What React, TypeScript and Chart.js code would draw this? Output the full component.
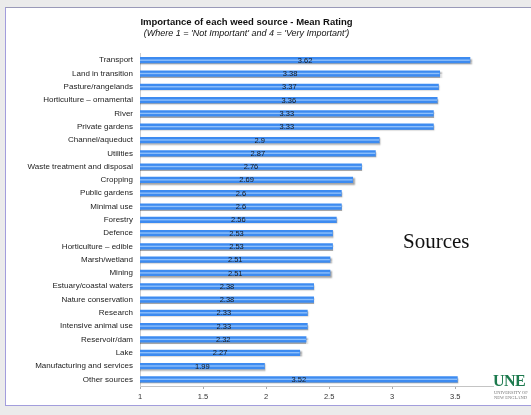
import React, { useEffect, useRef } from "react";
import { Chart, registerables } from "chart.js";

Chart.register(...registerables);

const categories = [
  "Transport",
  "Land in transition",
  "Pasture/rangelands",
  "Horticulture – ornamental",
  "River",
  "Private gardens",
  "Channel/aqueduct",
  "Utilities",
  "Waste treatment and disposal",
  "Cropping",
  "Public gardens",
  "Minimal use",
  "Forestry",
  "Defence",
  "Horticulture – edible",
  "Marsh/wetland",
  "Mining",
  "Estuary/coastal waters",
  "Nature conservation",
  "Research",
  "Intensive animal use",
  "Reservoir/dam",
  "Lake",
  "Manufacturing and services",
  "Other sources",
];

const meanRatings = [
  3.62, 3.38, 3.37, 3.36, 3.33, 3.33, 2.9, 2.87, 2.76, 2.69, 2.6, 2.6, 2.56,
  2.53, 2.53, 2.51, 2.51, 2.38, 2.38, 2.33, 2.33, 2.32, 2.27, 1.99, 3.52,
];

const titleText = "Importance of each weed source - Mean Rating";
const subtitleText = "(Where 1 = 'Not Important' and 4 = 'Very Important')";
const axisMin = 1;
const axisMax = 3.8;
const axisStep = 0.5;

const FONT = "'Liberation Sans', Arial, Helvetica, sans-serif";

const barDecor = {
  id: "barDecor",
  beforeDatasetsDraw(chart: any) {
    const ctx = chart.ctx;
    ctx.save();
    ctx.shadowColor = "rgba(0,0,0,0.35)";
    ctx.shadowOffsetX = 1.5;
    ctx.shadowOffsetY = 1.5;
    ctx.shadowBlur = 1.5;
  },
  afterDatasetsDraw(chart: any) {
    const ctx = chart.ctx;
    ctx.restore();
    const meta = chart.getDatasetMeta(0);
    const ds = chart.data.datasets[0];
    const left = chart.chartArea.left;
    ctx.save();
    // lighter highlight stripe in each bar
    meta.data.forEach((el: any) => {
      const h = el.height;
      const b = Math.max(el.base, left);
      ctx.fillStyle = "rgba(170,210,255,0.75)";
      ctx.fillRect(b, el.y - h * 0.12, el.x - b - 0.5, h * 0.22);
    });
    // value labels in the middle of each bar
    ctx.font = `7.5px ${FONT}`;
    ctx.fillStyle = "#1a1a1a";
    ctx.textAlign = "center";
    ctx.textBaseline = "middle";
    meta.data.forEach((el: any, i: number) => {
      const b = Math.max(el.base, left);
      ctx.fillText(String(ds.data[i]), (b + el.x) / 2, el.y + 0.5);
    });
    ctx.restore();
  },
};

export default function App() {
  const ref = useRef<HTMLCanvasElement>(null);

  useEffect(() => {
    document.body.style.margin = "0";
    const canvas = ref.current!;
    const chart = new Chart(canvas, {
      type: "bar",
      data: {
        labels: categories,
        datasets: [
          {
            data: meanRatings,
            backgroundColor: "#3d8bf0",
            borderWidth: 0,
            barPercentage: 0.47,
            categoryPercentage: 1,
          },
        ],
      },
      options: {
        indexAxis: "y",
        responsive: false,
        animation: false,
        devicePixelRatio: 1,
        layout: { padding: { left: 0, right: 38, top: 0, bottom: 14 } },
        plugins: {
          legend: { display: false },
          tooltip: { enabled: false },
          title: {
            display: true,
            text: titleText,
            color: "#111",
            font: { family: FONT, size: 9.5, weight: "bold" },
            padding: { top: 17, bottom: 0 },
          },
          subtitle: {
            display: true,
            text: subtitleText,
            color: "#111",
            font: { family: FONT, size: 9, style: "italic" },
            padding: { top: 0, bottom: 14.4 },
          },
        },
        scales: {
          x: {
            type: "linear",
            min: axisMin,
            max: axisMax,
            ticks: {
              stepSize: axisStep,
              includeBounds: false,
              color: "#333",
              font: { family: FONT, size: 7.5 },
              padding: 3,
              callback: (v: any) => String(Number(v)),
            },
            grid: {
              display: true,
              drawOnChartArea: false,
              tickLength: 3,
              color: "#aaa",
            },
            border: { display: true, color: "#c4c4c4" },
            afterFit: (scale: any) => {
              scale.height = 15;
            },
          },
          y: {
            ticks: {
              color: "#222",
              font: { family: FONT, size: 8 },
              padding: 7,
              autoSkip: false,
            },
            grid: { display: false, drawTicks: false },
            border: { display: true, color: "#cfcfcf" },
            afterFit: (scale: any) => {
              scale.width = 140;
            },
          },
        },
      },
      plugins: [barDecor],
    } as any);
    return () => chart.destroy();
  }, []);

  return (
    <div
      style={{
        position: "fixed",
        left: 0,
        top: 0,
        width: 531,
        height: 415,
        background: "#ebebeb",
        overflow: "hidden",
      }}
    >
      <div
        style={{
          position: "absolute",
          left: 5,
          top: 7,
          width: 540,
          height: 397,
          background: "#fff",
          border: "1px solid #a29ddc",
          borderTopColor: "#9a9ab8",
        }}
      />
      <canvas
        ref={ref}
        width={531}
        height={415}
        style={{ position: "absolute", left: 0, top: 0, width: 531, height: 415 }}
      />
      <div
        style={{
          position: "absolute",
          left: 403,
          top: 231,
          fontFamily: "'Liberation Serif', 'Times New Roman', serif",
          fontSize: 21,
          lineHeight: "21px",
          color: "#111",
        }}
      >
        Sources
      </div>
      <div
        style={{
          position: "absolute",
          left: 493,
          top: 373,
          fontFamily: "'Liberation Serif', 'Times New Roman', serif",
          fontWeight: "bold",
          fontSize: 16,
          lineHeight: "16px",
          color: "#1d7a4e",
          letterSpacing: -0.5,
        }}
      >
        UNE
      </div>
      <div
        style={{
          position: "absolute",
          left: 494,
          top: 390,
          fontFamily: "'Liberation Serif', 'Times New Roman', serif",
          fontSize: 4.5,
          lineHeight: "5px",
          color: "#777",
          whiteSpace: "nowrap",
        }}
      >
        UNIVERSITY OF
        <br />
        NEW ENGLAND
      </div>
    </div>
  );
}
